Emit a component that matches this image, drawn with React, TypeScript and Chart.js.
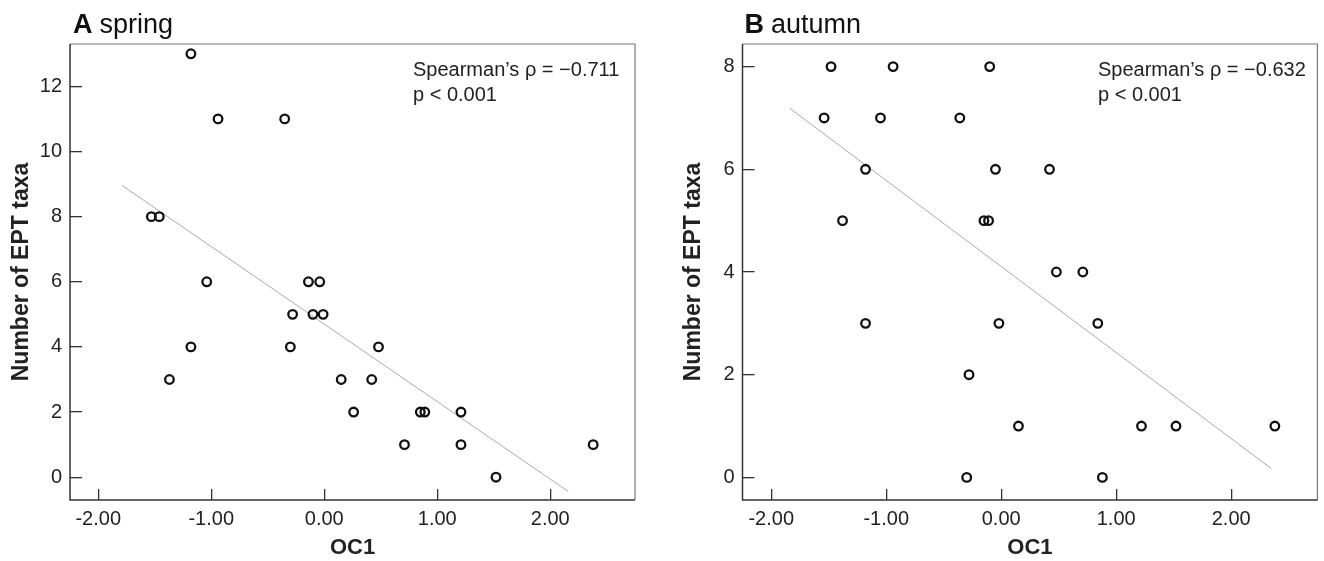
import { useEffect, useRef } from "react";
import { Chart, registerables } from "chart.js";

Chart.register(...registerables);

// ---- data ----
const springOC1 = [-1.18, -0.94, -0.35, -1.53, -1.46, -1.04, -0.14, -0.04, -0.28, -0.10, -0.01, -1.18, -0.30, 0.48, -1.37, 0.15, 0.42, 0.26, 0.85, 0.89, 1.21, 0.71, 1.21, 2.38, 1.52];
const springEPT = [13, 11, 11, 8, 8, 6, 6, 6, 5, 5, 5, 4, 4, 4, 3, 3, 3, 2, 2, 2, 2, 1, 1, 1, 0];
const autumnOC1 = [-1.48, -0.94, -0.10, -1.54, -1.05, -0.36, -1.18, -0.05, 0.42, -1.38, -0.15, -0.11, 0.48, 0.71, -1.18, -0.02, 0.84, -0.28, 0.15, 1.22, 1.52, 2.38, -0.30, 0.88];
const autumnEPT = [8, 8, 8, 7, 7, 7, 6, 6, 6, 5, 5, 5, 4, 4, 3, 3, 3, 2, 1, 1, 1, 1, 0, 0];

const springFitOC1 = [-1.79, 2.16];
const springFitEPT = [8.96, -0.44];
const autumnFitOC1 = [-1.84, 2.35];
const autumnFitEPT = [7.19, 0.17];

const xTickValues = [-2, -1, 0, 1, 2];
const xTickLabels = ["-2.00", "-1.00", "0.00", "1.00", "2.00"];
const springYTicks = [0, 2, 4, 6, 8, 10, 12];
const autumnYTicks = [0, 2, 4, 6, 8];

const xTitle = "OC1";
const yTitle = "Number of EPT taxa";
const springTitle = ["A", "spring"];
const autumnTitle = ["B", "autumn"];
const springStats = ["Spearman\u2019s \u03C1 = \u22120.711", "p < 0.001"];
const autumnStats = ["Spearman\u2019s \u03C1 = \u22120.632", "p < 0.001"];

const X_MIN = -2.25;
const X_MAX = 2.75;

const FONT = "'Liberation Sans', Arial, Helvetica, sans-serif";

type PanelProps = {
  oc1: number[];
  ept: number[];
  fitX: number[];
  fitY: number[];
  yTicks: number[];
  yMin: number;
  yMax: number;
  title: string[];
  stats: string[];
  left: number;
  yScaleWidth: number;
  padRight: number;
  yTitlePad: number;
  titleX: number;
  statsX: number;
};

function makeFramePlugin(p: PanelProps) {
  return {
    id: "frame",
    afterDraw(chart: any) {
      const ctx: CanvasRenderingContext2D = chart.ctx;
      const a = chart.chartArea;
      ctx.save();
      // frame: top/right lighter, left/bottom darker
      ctx.strokeStyle = "#777";
      ctx.lineWidth = 1.2;
      ctx.beginPath();
      ctx.moveTo(a.left, a.top);
      ctx.lineTo(a.right, a.top);
      ctx.lineTo(a.right, a.bottom);
      ctx.stroke();
      ctx.strokeStyle = "#333";
      ctx.lineWidth = 1.5;
      ctx.beginPath();
      ctx.moveTo(a.left, a.top);
      ctx.lineTo(a.left, a.bottom);
      ctx.lineTo(a.right, a.bottom);
      ctx.stroke();

      // panel title: bold letter + normal season
      ctx.fillStyle = "#111";
      ctx.textBaseline = "alphabetic";
      ctx.textAlign = "left";
      ctx.font = `bold 27px ${FONT}`;
      ctx.fillText(p.title[0], p.titleX, 33);
      const w = ctx.measureText(p.title[0]).width;
      ctx.font = `27px ${FONT}`;
      ctx.fillText(p.title[1], p.titleX + w + 7, 33);

      // statistics annotation
      ctx.fillStyle = "#222";
      ctx.font = `20px ${FONT}`;
      ctx.fillText(p.stats[0], p.statsX, 76);
      ctx.fillText(p.stats[1], p.statsX, 101);
      ctx.restore();
    },
  };
}

function Panel(p: PanelProps) {
  const ref = useRef<HTMLCanvasElement | null>(null);
  useEffect(() => {
    if (!ref.current) return;
    const points = p.oc1.map((x, i) => ({ x, y: p.ept[i] }));
    const fit = p.fitX.map((x, i) => ({ x, y: p.fitY[i] }));
    const chart = new Chart(ref.current, {
      type: "scatter",
      data: {
        datasets: [
          {
            data: points,
            pointRadius: 4.3,
            pointBorderWidth: 2.3,
            pointBorderColor: "#111",
            pointBackgroundColor: "rgba(0,0,0,0)",
            borderColor: "#111",
            backgroundColor: "rgba(0,0,0,0)",
            order: 1,
          },
          {
            data: fit,
            showLine: true,
            pointRadius: 0,
            borderColor: "#aaaaaa",
            borderWidth: 1,
            order: 2,
          } as any,
        ],
      },
      options: {
        animation: false,
        responsive: false,
        devicePixelRatio: 1,
        layout: { padding: { top: 44, right: p.padRight, left: 0, bottom: 0 } },
        plugins: {
          legend: { display: false },
          tooltip: { enabled: false },
        },
        scales: {
          x: {
            type: "linear",
            min: X_MIN,
            max: X_MAX,
            grid: {
              display: true,
              drawOnChartArea: false,
              drawTicks: true,
              tickLength: -11,
              color: "#333",
              lineWidth: 1.3,
            },
            border: { display: false },
            afterBuildTicks: (s: any) => {
              s.ticks = xTickValues.map((v) => ({ value: v }));
            },
            afterFit: (s: any) => {
              s.height = 61;
            },
            ticks: {
              padding: 18,
              color: "#222",
              font: { family: FONT, size: 20 },
              maxRotation: 0,
              autoSkip: false,
              callback: (v: any) => xTickLabels[xTickValues.indexOf(Number(v))],
            },
            title: {
              display: true,
              text: xTitle,
              color: "#222",
              font: { family: FONT, size: 22, weight: "bold" },
              padding: { top: 0, bottom: 0 },
            },
          },
          y: {
            type: "linear",
            min: p.yMin,
            max: p.yMax,
            grid: {
              display: true,
              drawOnChartArea: false,
              drawTicks: true,
              tickLength: -12,
              color: "#333",
              lineWidth: 1.3,
            },
            border: { display: false },
            afterBuildTicks: (s: any) => {
              s.ticks = p.yTicks.map((v) => ({ value: v }));
            },
            afterFit: (s: any) => {
              s.width = p.yScaleWidth;
            },
            ticks: {
              padding: 20,
              color: "#222",
              font: { family: FONT, size: 20 },
              autoSkip: false,
              callback: (v: any) => String(v),
            },
            title: {
              display: true,
              text: yTitle,
              color: "#222",
              font: { family: FONT, size: 23, weight: "bold" },
              padding: { top: p.yTitlePad, bottom: 0 },
            },
          },
        },
      } as any,
      plugins: [makeFramePlugin(p)],
    });
    return () => chart.destroy();
  }, []);
  return (
    <canvas
      ref={ref}
      width={662}
      height={561}
      style={{ position: "absolute", left: p.left, top: 0, width: 662, height: 561 }}
    />
  );
}

export default function App() {
  return (
    <div style={{ position: "fixed", left: 0, top: 0, width: 1324, height: 561, background: "#fff", overflow: "hidden" }}>
      <Panel
        oc1={springOC1}
        ept={springEPT}
        fitX={springFitOC1}
        fitY={springFitEPT}
        yTicks={springYTicks}
        yMin={-0.7}
        yMax={13.3}
        title={springTitle}
        stats={springStats}
        left={0}
        yScaleWidth={70}
        padRight={27}
        yTitlePad={8}
        titleX={73}
        statsX={413}
      />
      <Panel
        oc1={autumnOC1}
        ept={autumnEPT}
        fitX={autumnFitOC1}
        fitY={autumnFitEPT}
        yTicks={autumnYTicks}
        yMin={-0.44}
        yMax={8.44}
        title={autumnTitle}
        stats={autumnStats}
        left={662}
        yScaleWidth={80.5}
        padRight={1}
        yTitlePad={18}
        titleX={82.5}
        statsX={436}
      />
    </div>
  );
}
